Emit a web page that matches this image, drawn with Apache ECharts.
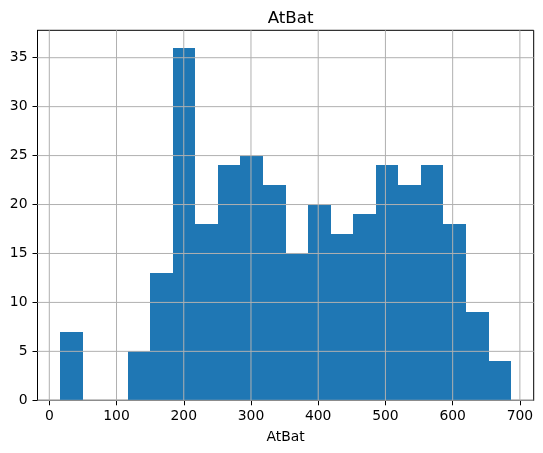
<!DOCTYPE html>
<html>
<head>
<meta charset="utf-8">
<script src="https://cdn.jsdelivr.net/npm/echarts@6/dist/echarts.min.js"></script>
<style>
html,body{margin:0;padding:0;background:#fff;}
#c{width:543px;height:453px;}
</style>
</head>
<body>
<div id="c"></div>
<script>
// Histogram of AtBat (20 bins)
const binEdges = [16, 49.55, 83.1, 116.65, 150.2, 183.75, 217.3, 250.85, 284.4, 317.95, 351.5,
                  385.05, 418.6, 452.15, 485.7, 519.25, 552.8, 586.35, 619.9, 653.45, 687];
const counts = [7, 0, 0, 5, 13, 36, 18, 24, 25, 22, 15, 20, 17, 19, 24, 22, 24, 18, 9, 4];
const xTicks = [0, 100, 200, 300, 400, 500, 600, 700];
const yTicks = [0, 5, 10, 15, 20, 25, 30, 35];
const title = 'AtBat';
const xLabel = 'AtBat';

const xMin = -17.55, xMax = 720.55, yMin = 0, yMax = 37.8;

const barData = counts.map((c, i) => [binEdges[i], binEdges[i + 1], c]);
const gridData = xTicks.map(v => ['x', v]).concat(yTicks.map(v => ['y', v]));

const font = 'DejaVu Sans';
const chart = echarts.init(document.getElementById('c'), null, {renderer: 'canvas'});
chart.setOption({
  animation: false,
  backgroundColor: '#ffffff',
  title: {
    text: title, left: 285.6, top: 5, textAlign: 'center',
    textStyle: {fontFamily: font, fontSize: 16.7, fontWeight: 'normal', color: '#000'}
  },
  grid: {
    left: 37.5, top: 30.3, width: 496.2, height: 370,
    show: true, borderColor: '#000', borderWidth: 1, backgroundColor: 'transparent'
  },
  xAxis: {
    type: 'value', min: xMin, max: xMax,
    name: xLabel, nameLocation: 'middle', nameGap: 30,
    nameTextStyle: {fontFamily: font, fontSize: 13.9, color: '#000'},
    axisLine: {show: true, onZero: false, lineStyle: {color: '#000', width: 1}},
    axisTick: {show: true, customValues: xTicks, length: 5, inside: false, lineStyle: {color: '#000'}},
    axisLabel: {customValues: xTicks, fontFamily: font, fontSize: 13.9, color: '#000', margin: 9},
    splitLine: {show: false}
  },
  yAxis: {
    type: 'value', min: yMin, max: yMax,
    axisLine: {show: true, onZero: false, lineStyle: {color: '#000', width: 1}},
    axisTick: {show: true, customValues: yTicks, length: 5, inside: false, lineStyle: {color: '#000'}},
    axisLabel: {customValues: yTicks, fontFamily: font, fontSize: 13.9, color: '#000', margin: 10},
    splitLine: {show: false}
  },
  series: [
    {
      type: 'custom', name: 'AtBat', z: 2, silent: true,
      data: barData,
      encode: {x: [0, 1], y: 2},
      itemStyle: {color: '#1f77b4', borderWidth: 0, borderColor: 'transparent', opacity: 1},
      renderItem: function (params, api) {
        const h = api.value(2);
        if (!h) return null;
        const p0 = api.coord([api.value(0), h]);
        const p1 = api.coord([api.value(1), 0]);
        const x0 = Math.round(p0[0]), x1 = Math.round(p1[0]);
        const y0 = Math.round(p0[1]), y1 = Math.round(p1[1]);
        return {
          type: 'rect',
          shape: {x: x0, y: y0, width: x1 - x0, height: y1 - y0},
          style: {fill: '#1f77b4', stroke: 'transparent', lineWidth: 0, opacity: 1}
        };
      }
    },
    {
      type: 'custom', name: 'grid', z: 3, silent: true,
      data: gridData,
      renderItem: function (params, api) {
        const d = gridData[params.dataIndex];
        let a, b;
        if (d[0] === 'x') { a = api.coord([d[1], yMin]); b = api.coord([d[1], yMax]); }
        else { a = api.coord([xMin, d[1]]); b = api.coord([xMax, d[1]]); }
        return {
          type: 'line',
          shape: {x1: a[0], y1: a[1], x2: b[0], y2: b[1]},
          style: {stroke: '#b0b0b0', lineWidth: 1}
        };
      }
    }
  ]
});
</script>
</body>
</html>
